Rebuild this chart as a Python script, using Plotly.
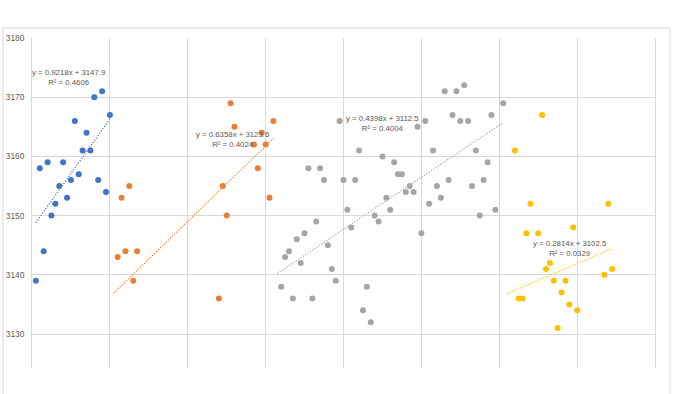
import plotly.graph_objects as go

# ---- data ----
blue_x = list(range(1, 21))
blue_y = [3139, 3158, 3144, 3159, 3150, 3152, 3155, 3159, 3153, 3156,
          3166, 3157, 3161, 3164, 3161, 3170, 3156, 3171, 3154, 3167]

orange_x = [22, 23, 24, 25, 26, 27, 48, 49, 50, 51, 52, 57, 58, 59, 60, 61, 62]
orange_y = [3143, 3153, 3144, 3155, 3139, 3144, 3136, 3155, 3150, 3169, 3165,
            3162, 3158, 3164, 3162, 3153, 3166]

gray_x = list(range(64, 120)) + [121]
gray_y = [3138, 3143, 3144, 3136, 3146, 3142, 3147, 3158, 3136, 3149,
          3158, 3156, 3145, 3141, 3139, 3166, 3156, 3151, 3148, 3156,
          3161, 3134, 3138, 3132, 3150, 3149, 3160, 3153, 3151, 3159,
          3157, 3157, 3154, 3155, 3154, 3165, 3147, 3166, 3152, 3161,
          3155, 3153, 3171, 3156, 3167, 3171, 3166, 3172, 3166, 3155,
          3161, 3150, 3156, 3159, 3167, 3151, 3169]

yellow_x = [124, 125, 126, 127, 128, 130, 131, 132, 133, 134, 135, 136, 137,
            138, 139, 140, 147, 148, 149]
yellow_y = [3161, 3136, 3136, 3147, 3152, 3147, 3167, 3141, 3142, 3139, 3131,
            3137, 3139, 3135, 3148, 3134, 3140, 3152, 3141]

# trendline coefficients and extents as shown in the reference
trend_slope = [0.9218, 0.6358, 0.4398, 0.2814]
trend_intercept = [3147.9, 3123.6, 3112.5, 3102.5]
trend_r2 = ["0.4606", "0.4024", "0.4004", "0.0329"]
trend_xmin = [1, 21, 63, 122]
trend_xmax = [20, 62, 121, 149]

y_ticks = [3130, 3140, 3150, 3160, 3170, 3180]

# ---- styling ----
colors = ["#4472C4", "#ED7D31", "#A5A5A5", "#FFC000"]
label_pos = [(9.5, 3173.3), (51.6, 3162.85), (90.1, 3165.6), (138.2, 3144.5)]
series = [(blue_x, blue_y), (orange_x, orange_y), (gray_x, gray_y), (yellow_x, yellow_y)]

fig = go.Figure()
for i, (xs, ys) in enumerate(series):
    x0, x1 = trend_xmin[i], trend_xmax[i]
    fig.add_trace(go.Scatter(
        x=[x0, x1],
        y=[trend_slope[i] * x0 + trend_intercept[i], trend_slope[i] * x1 + trend_intercept[i]],
        mode="lines", line=dict(color=colors[i], width=1.2, dash="1.2px,1.6px"),
        hoverinfo="skip", showlegend=False))
for i, (xs, ys) in enumerate(series):
    fig.add_trace(go.Scatter(x=xs, y=ys, mode="markers",
                             marker=dict(color=colors[i], size=6, line=dict(width=0)),
                             showlegend=False))

for i in range(4):
    fig.add_annotation(
        x=label_pos[i][0], y=label_pos[i][1], xref="x", yref="y",
        text=f"y = {trend_slope[i]}x + {trend_intercept[i]}<br>R² = {trend_r2[i]}",
        showarrow=False, align="center",
        font=dict(family="Liberation Sans", size=7.8, color="#595959"))

# chart outer border (Excel chart frame), extends past the cropped bottom
pw, ph = 623.0, 330.0
fig.add_shape(type="rect", xref="paper", yref="paper",
              x0=(3 - 32) / pw, x1=(670 - 32) / pw,
              y0=(368 - 420) / ph, y1=(368 - 28) / ph,
              line=dict(color="#d9d9d9", width=1), fillcolor="rgba(0,0,0,0)",
              layer="below")

fig.update_layout(
    width=680, height=394,
    margin=dict(l=32, r=25, t=38, b=26, autoexpand=False),
    paper_bgcolor="white", plot_bgcolor="white",
    xaxis=dict(range=[0, 160], dtick=20, tick0=0, showticklabels=False,
               showgrid=True, gridcolor="#d9d9d9", gridwidth=1, automargin=False,
               zeroline=False, showline=False, ticks=""),
    yaxis=dict(range=[3124.26, 3180.001], tickvals=y_ticks,
               ticktext=[str(v) for v in y_ticks], automargin=False,
               showgrid=True, gridcolor="#d9d9d9", gridwidth=1,
               zeroline=False, showline=True, linecolor="#d9d9d9", linewidth=1,
               mirror=True, ticks="", ticklabelstandoff=5,
               tickfont=dict(family="Liberation Sans", size=8.3, color="#595959")),
    hovermode=False,
)

fig.write_html("out.html", config={"displayModeBar": False},
               post_script="document.body.style.margin='0px';document.body.style.padding='0px';")
